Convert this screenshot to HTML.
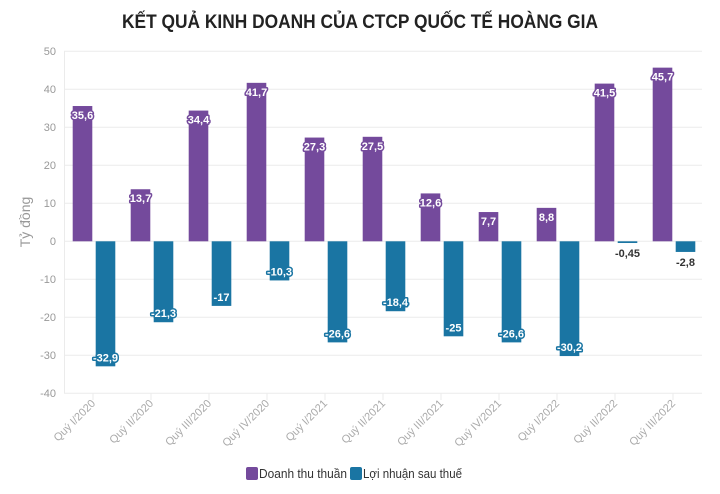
<!DOCTYPE html>
<html><head><meta charset="utf-8"><style>
html,body{margin:0;padding:0;background:#fff;}
svg{display:block;font-family:"Liberation Sans",sans-serif;}
</style></head><body>
<svg width="720" height="494" viewBox="0 0 720 494" xmlns="http://www.w3.org/2000/svg">
<text x="360" y="28" text-anchor="middle" font-size="19" font-weight="bold" fill="#222" textLength="476" lengthAdjust="spacingAndGlyphs">KẾT QUẢ KINH DOANH CỦA CTCP QUỐC TẾ HOÀNG GIA</text>
<g stroke="#ebebeb" stroke-width="1">
<line x1="64" x2="702" y1="51.3" y2="51.3"/><line x1="64" x2="702" y1="89.3" y2="89.3"/>
<line x1="64" x2="702" y1="127.3" y2="127.3"/><line x1="64" x2="702" y1="165.3" y2="165.3"/>
<line x1="64" x2="702" y1="203.3" y2="203.3"/><line x1="64" x2="702" y1="241.3" y2="241.3"/>
<line x1="64" x2="702" y1="279.3" y2="279.3"/><line x1="64" x2="702" y1="317.3" y2="317.3"/>
<line x1="64" x2="702" y1="355.3" y2="355.3"/><line x1="64" x2="702" y1="393.3" y2="393.3"/>
<line x1="64.5" x2="64.5" y1="51" y2="393"/>
</g>
<g font-size="11" fill="#999" text-anchor="end">
<text x="56" y="55">50</text><text x="56" y="93">40</text><text x="56" y="131">30</text><text x="56" y="169">20</text><text x="56" y="207">10</text><text x="56" y="245">0</text><text x="56" y="283">-10</text><text x="56" y="321">-20</text><text x="56" y="359">-30</text><text x="56" y="397">-40</text>
</g>
<text transform="translate(30,222) rotate(-90)" text-anchor="middle" font-size="14" fill="#999">Tỷ đồng</text>
<g id="bars"></g>
<g id="lbls"></g>
<g id="xl"></g>
<rect x="246" y="467" width="12" height="13" rx="2" fill="#744a9c"/>
<text x="259" y="478" font-size="13" fill="#333" textLength="88" lengthAdjust="spacingAndGlyphs">Doanh thu thuần</text>
<rect x="350" y="467" width="12" height="13" rx="2" fill="#1a75a3"/>
<text x="363" y="478" font-size="13" fill="#333" textLength="99" lengthAdjust="spacingAndGlyphs">Lợi nhuận sau thuế</text>
<script>
var rev=[35.6,13.7,34.4,41.7,27.3,27.5,12.6,7.7,8.8,41.5,45.7];
var prof=[-32.9,-21.3,-17,-10.3,-26.6,-18.4,-25,-26.6,-30.2,-0.45,-2.8];
var cats=["Quý I/2020","Quý II/2020","Quý III/2020","Quý IV/2020","Quý I/2021","Quý II/2021","Quý III/2021","Quý IV/2021","Quý I/2022","Quý II/2022","Quý III/2022"];
var ns="http://www.w3.org/2000/svg",Z=241.3,K=3.8;
function el(t,a,p,txt){var e=document.createElementNS(ns,t);for(var k in a)e.setAttribute(k,a[k]);if(txt!=null)e.textContent=txt;document.getElementById(p).appendChild(e);}
function f(v){return String(v).replace('.',',');}
for(var i=0;i<11;i++){
 var g=64+58*i;
 var h=rev[i]*K;
 el('rect',{x:g+8.7,y:Z-h,width:19.6,height:h,fill:'#744a9c'},'bars');
 var ph=-prof[i]*K;
 el('rect',{x:g+31.7,y:Z,width:19.6,height:Math.max(ph,1.2),fill:'#1a75a3'},'bars');
 var cx=g+18.5;
 el('text',{x:cx,y:Z-h+13,'text-anchor':'middle','font-size':11,'font-weight':'bold',fill:'#fff',stroke:'#744a9c','stroke-width':3,'paint-order':'stroke','stroke-linejoin':'round'},'lbls',f(rev[i]));
 var bx=g+41.5;
 if(ph>20) el('text',{x:bx,y:Z+ph-5,'text-anchor':'middle','font-size':11,'font-weight':'bold',fill:'#fff',stroke:'#1a75a3','stroke-width':3,'paint-order':'stroke','stroke-linejoin':'round'},'lbls',f(prof[i]));
 else el('text',{x:bx,y:Z+Math.max(ph,1.2)+14,'text-anchor':'middle','font-size':11,'font-weight':'bold',fill:'#333'},'lbls',f(prof[i]));
 var tx=g+29;
 el('line',{x1:tx,x2:tx,y1:393,y2:400,stroke:'#ebebeb'},'xl');
 el('text',{transform:'translate('+(tx+3)+',404) rotate(-45)','text-anchor':'end','font-size':11,fill:'#aaa'},'xl',cats[i]);
}
</script>
</svg>
</body></html>
